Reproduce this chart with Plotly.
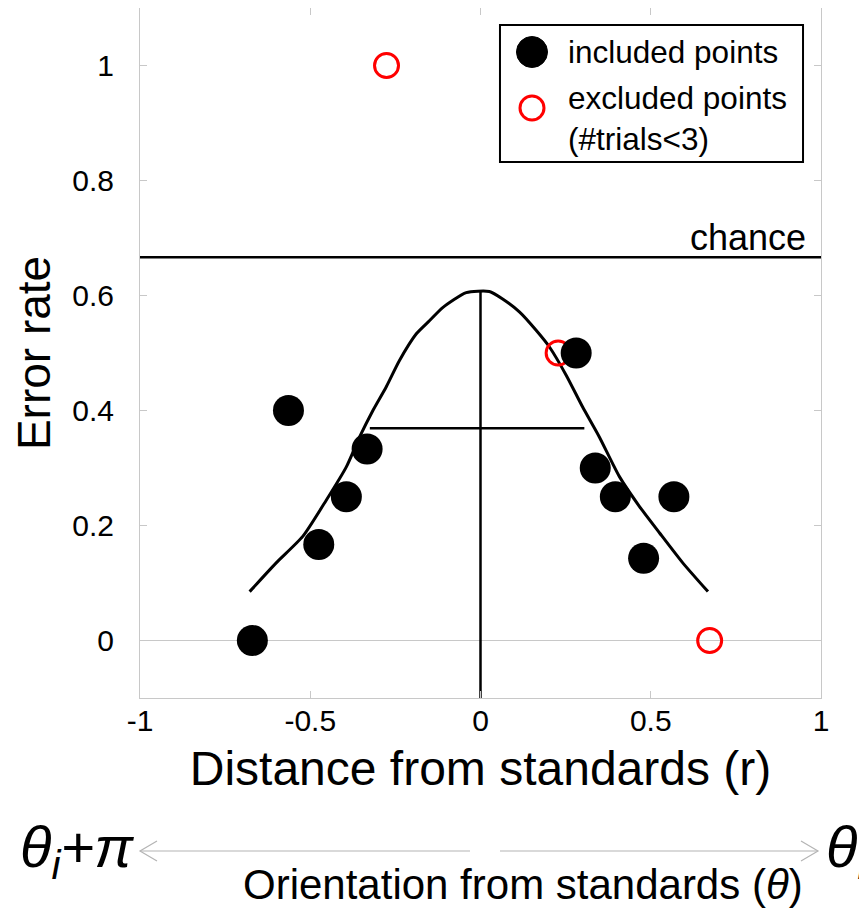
import plotly.graph_objects as go

# ---- data ----
included_r = [-0.670, -0.564, -0.475, -0.394, -0.333, 0.281, 0.337, 0.396, 0.479, 0.568]
included_err = [0.0, 0.40, 0.167, 0.25, 0.333, 0.50, 0.30, 0.25, 0.143, 0.25]

excluded_r = [-0.276, 0.228, 0.673]
excluded_err = [1.0, 0.50, 0.0]

fit_r = [-0.678, -0.600, -0.522, -0.453, -0.394, -0.355, -0.316, -0.277, -0.238,
         -0.189, -0.150, -0.111, -0.042, 0.026, 0.065, 0.115, 0.164, 0.203,
         0.252, 0.300, 0.349, 0.408, 0.467, 0.526, 0.594, 0.668]
fit_err = [0.085, 0.135, 0.181, 0.244, 0.302, 0.354, 0.400, 0.441, 0.487,
           0.533, 0.556, 0.579, 0.605, 0.607, 0.594, 0.571, 0.539, 0.510,
           0.461, 0.406, 0.354, 0.285, 0.233, 0.187, 0.135, 0.085]

width_r = [-0.325, 0.305]      # horizontal width marker
width_err = [0.369, 0.369]
center_r = [0.0, 0.0]          # vertical centre marker
center_err = [-0.1, 0.607]

chance_level = 2 / 3

x_ticks = [-1, -0.5, 0, 0.5, 1]
x_ticktext = ["-1", "-0.5", "0", "0.5", "1"]
y_ticks = [0, 0.2, 0.4, 0.6, 0.8, 1]
y_ticktext = ["0", "0.2", "0.4", "0.6", "0.8", "1"]

FONT = "Liberation Sans, Arial, Helvetica, sans-serif"

fig = go.Figure()

fig.add_trace(go.Scatter(x=fit_r, y=fit_err, mode="lines",
                         line=dict(color="black", width=3, shape="spline", smoothing=0.6),
                         showlegend=False))
fig.add_trace(go.Scatter(x=width_r, y=width_err, mode="lines",
                         line=dict(color="black", width=2.5), showlegend=False))
fig.add_trace(go.Scatter(x=center_r, y=center_err, mode="lines",
                         line=dict(color="black", width=2.5), showlegend=False))
fig.add_trace(go.Scatter(x=excluded_r, y=excluded_err, mode="markers",
                         name="excluded points (#trials<3)",
                         marker=dict(symbol="circle-open", size=24, color="#ff0000",
                                     line=dict(width=3, color="#ff0000")),
                         showlegend=False))
fig.add_trace(go.Scatter(x=included_r, y=included_err, mode="markers",
                         name="included points",
                         marker=dict(symbol="circle", size=31, color="black"),
                         showlegend=False))

shapes = []
# chance line
shapes.append(dict(type="line", xref="x domain", yref="y", x0=0, x1=1,
                   y0=chance_level, y1=chance_level,
                   line=dict(color="black", width=2.5)))

# ---- hand-made legend box (positions in paper coordinates) ----
L_x0, L_x1, L_y0, L_y1 = 0.5286, 0.9736, 0.7768, 0.9754
shapes.append(dict(type="rect", xref="paper", yref="paper",
                   x0=L_x0, x1=L_x1, y0=L_y0, y1=L_y1,
                   line=dict(color="black", width=2), fillcolor="white", layer="above"))
sym_x = (532 - 140) / 681
row1_y = (698 - 52) / 690
row2_y = (698 - 108) / 690
shapes.append(dict(type="circle", xref="paper", yref="paper",
                   xsizemode="pixel", ysizemode="pixel",
                   xanchor=sym_x, yanchor=row1_y, x0=-15.5, x1=15.5, y0=-15.5, y1=15.5,
                   fillcolor="black", line=dict(color="black", width=1), layer="above"))
shapes.append(dict(type="circle", xref="paper", yref="paper",
                   xsizemode="pixel", ysizemode="pixel",
                   xanchor=sym_x, yanchor=row2_y, x0=-12, x1=12, y0=-12, y1=12,
                   fillcolor="rgba(0,0,0,0)", line=dict(color="#ff0000", width=3),
                   layer="above"))

# ---- orientation arrows under the axis ----
arrow_y = (698 - 851) / 690
gray = "#b4b4b4"
left_tip = 0.0
left_end = (470 - 140) / 681
right_start = (500 - 140) / 681
right_tip = (818 - 140) / 681
shapes.append(dict(type="line", xref="paper", yref="paper",
                   x0=left_tip, x1=left_end, y0=arrow_y, y1=arrow_y,
                   line=dict(color=gray, width=1.2)))
shapes.append(dict(type="line", xref="paper", yref="paper",
                   x0=right_start, x1=right_tip, y0=arrow_y, y1=arrow_y,
                   line=dict(color=gray, width=1.2)))
shapes.append(dict(type="path", xref="paper", yref="paper",
                   xsizemode="pixel", ysizemode="pixel",
                   xanchor=left_tip, yanchor=arrow_y,
                   path="M 17 10 L 0 0 L 17 -10", line=dict(color=gray, width=1.2)))
shapes.append(dict(type="path", xref="paper", yref="paper",
                   xsizemode="pixel", ysizemode="pixel",
                   xanchor=right_tip, yanchor=arrow_y,
                   path="M -17 10 L 0 0 L -17 -10", line=dict(color=gray, width=1.2)))

annotations = [
    dict(text="chance", xref="x domain", yref="y", x=0.981, y=chance_level,
         xanchor="right", yanchor="bottom", showarrow=False, yshift=-3,
         font=dict(size=36, color="black", family=FONT)),
    dict(text="included points", xref="paper", yref="paper",
         x=(566 - 140) / 681, y=row1_y, xanchor="left", yanchor="middle",
         showarrow=False, font=dict(size=31.5, color="black", family=FONT)),
    dict(text="excluded points<br>(#trials<3)", xref="paper", yref="paper",
         x=(566 - 140) / 681, y=(698 - 118) / 690, xanchor="left", yanchor="middle",
         align="left", showarrow=False,
         font=dict(size=31.5, color="black", family=FONT)),
    dict(text="<i>θ<sub>i</sub>+π</i>", xref="paper", yref="paper",
         x=(136 - 140) / 681, y=arrow_y, xanchor="right", yanchor="middle",
         showarrow=False, font=dict(size=58, color="black", family=FONT)),
    dict(text="<i>θ<sub>i</sub></i>", xref="paper", yref="paper",
         x=(824 - 140) / 681, y=arrow_y, xanchor="left", yanchor="middle",
         showarrow=False, font=dict(size=58, color="black", family=FONT)),
    dict(text="Orientation from standards (<i>θ</i>)", xref="paper", yref="paper",
         x=(523 - 140) / 681, y=(698 - 884) / 690, xanchor="center", yanchor="middle",
         showarrow=False, font=dict(size=42, color="black", family=FONT)),
]

axis_line = "#c8c8c8"
fig.update_layout(
    width=859, height=906,
    margin=dict(l=132, r=46, t=0, b=216, autoexpand=False),
    paper_bgcolor="white", plot_bgcolor="white",
    font=dict(family=FONT, color="black"),
    showlegend=False,
    shapes=shapes,
    annotations=annotations,
    xaxis=dict(range=[-1, 1], tickvals=x_ticks, ticktext=x_ticktext,
               ticks="inside", ticklen=7, tickcolor=axis_line, tickwidth=1,
               showline=True, linecolor=axis_line, linewidth=1, mirror="ticks",
               showgrid=False, zeroline=False,
               tickfont=dict(size=30, color="black", family=FONT),
               ticklabelstandoff=-4,
               title=dict(text="Distance from standards (r)", standoff=15,
                          font=dict(size=48, color="black", family=FONT))),
    yaxis=dict(range=[-0.1, 1.1], tickvals=y_ticks, ticktext=y_ticktext,
               ticks="inside", ticklen=7, tickcolor=axis_line, tickwidth=1,
               showline=True, linecolor=axis_line, linewidth=1, mirror="ticks",
               showgrid=False, zeroline=True, zerolinecolor=axis_line, zerolinewidth=1,
               tickfont=dict(size=30, color="black", family=FONT),
               ticklabelstandoff=19,
               title=dict(text="Error rate", standoff=17,
                          font=dict(size=46, color="black", family=FONT))),
)

fig.write_html("out.html")
